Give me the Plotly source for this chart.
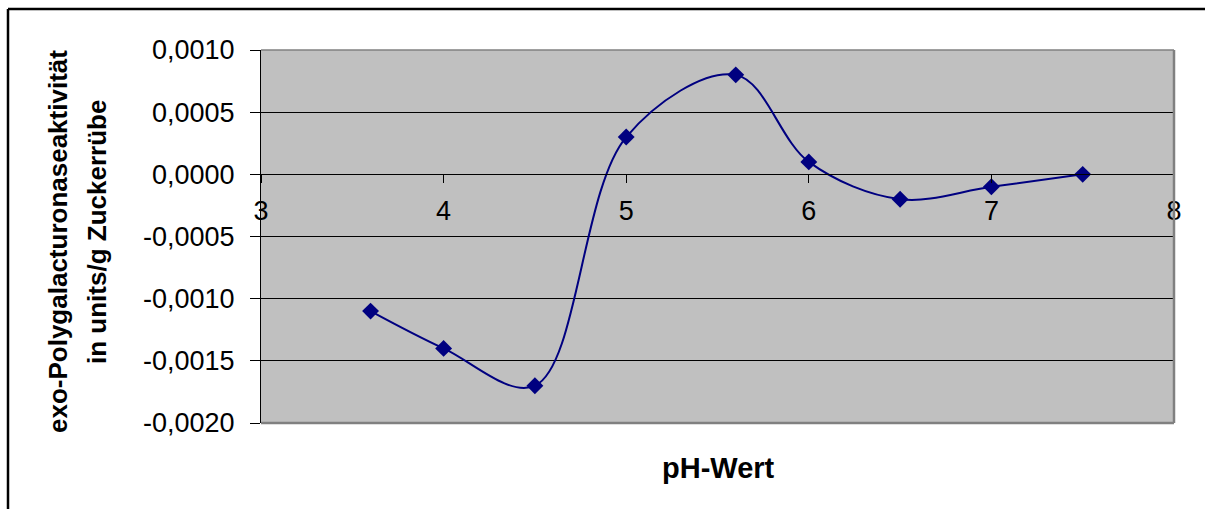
import plotly.graph_objects as go

ph = [3.6, 4.0, 4.5, 5.0, 5.6, 6.0, 6.5, 7.0, 7.5]
activity = [-0.0011, -0.0014, -0.0017, 0.0003, 0.0008, 0.0001, -0.0002, -0.0001, 0.0]

y_tickvals = [0.001, 0.0005, 0.0, -0.0005, -0.001, -0.0015, -0.002]
y_ticktext = ["0,0010", "0,0005", "0,0000", "-0,0005", "-0,0010", "-0,0015", "-0,0020"]
x_tickvals = [3, 4, 5, 6, 7, 8]
x_ticktext = ["3", "4", "5", "6", "7", "8"]

x_title = "pH-Wert"
y_title_1 = "exo-Polygalacturonaseaktivität"
y_title_2 = "in units/g Zuckerrübe"

FONT = "Liberation Sans, Arial, sans-serif"
NAVY = "#000080"

fig = go.Figure()
fig.add_trace(go.Scatter(
    x=ph, y=activity, mode="lines+markers",
    line=dict(color=NAVY, width=2, shape="spline", smoothing=1.0),
    marker=dict(symbol="diamond", size=13, color=NAVY),
    showlegend=False, hoverinfo="x+y",
))

W, H = 1205, 509
L, R, T, B = 261, 31, 50, 86

fig.update_layout(
    width=W, height=H,
    margin=dict(l=L, r=R, t=T, b=B),
    paper_bgcolor="white",
    plot_bgcolor="#C0C0C0",
    font=dict(family=FONT, color="black"),
    xaxis=dict(
        range=[3, 8], tickvals=x_tickvals, ticktext=x_ticktext,
        showgrid=False, zeroline=False,
        showline=True, linecolor="black", linewidth=1,
        ticks="outside", ticklen=8, tickcolor="black", tickwidth=1,
        anchor="free", position=2/3,
        tickfont=dict(size=27, family=FONT, color="black"),
        ticklabelstandoff=4,
    ),
    yaxis=dict(
        range=[-0.002, 0.001], tickvals=y_tickvals, ticktext=y_ticktext,
        showgrid=True, gridcolor="black", gridwidth=1,
        zeroline=False,
        showline=True, linecolor="black", linewidth=1,
        ticks="outside", ticklen=10, tickcolor="black", tickwidth=1,
        tickfont=dict(size=27, family=FONT, color="black"),
        ticklabelstandoff=10,
    ),
    annotations=[
        dict(text="<b>%s</b>" % x_title, xref="paper", yref="paper",
             x=(718 - L) / (W - L - R), y=-(468 - (H - B)) / (H - T - B),
             showarrow=False, font=dict(size=29, family=FONT, color="black"),
             xanchor="center", yanchor="middle"),
        dict(text="<b>%s</b>" % y_title_1, xref="paper", yref="paper",
             x=(58 - L) / (W - L - R), y=((H - B) - 242) / (H - T - B),
             showarrow=False, textangle=-90,
             font=dict(size=26, family=FONT, color="black"),
             xanchor="center", yanchor="middle"),
        dict(text="<b>%s</b>" % y_title_2, xref="paper", yref="paper",
             x=(97 - L) / (W - L - R), y=((H - B) - 232) / (H - T - B),
             showarrow=False, textangle=-90,
             font=dict(size=26, family=FONT, color="black"),
             xanchor="center", yanchor="middle"),
    ],
    shapes=[
        dict(type="line", xref="paper", yref="paper", x0=0, x1=1, y0=1, y1=1,
             line=dict(color="#808080", width=1.5), layer="above"),
        dict(type="line", xref="paper", yref="paper", x0=1, x1=1, y0=0, y1=1,
             line=dict(color="#808080", width=2.5), layer="above"),
        dict(type="line", xref="paper", yref="paper", x0=0, x1=1, y0=0, y1=0,
             line=dict(color="#808080", width=2.5), layer="above"),
        dict(type="line", xref="paper", yref="paper",
             x0=(8 - L) / (W - L - R), x1=1.2,
             y0=((H - B) - 9) / (H - T - B), y1=((H - B) - 9) / (H - T - B),
             line=dict(color="black", width=2.5)),
        dict(type="line", xref="paper", yref="paper",
             x0=(8 - L) / (W - L - R), x1=(8 - L) / (W - L - R),
             y0=-0.5, y1=((H - B) - 9) / (H - T - B),
             line=dict(color="black", width=2.5)),
    ],
)

fig.write_html("out.html")
